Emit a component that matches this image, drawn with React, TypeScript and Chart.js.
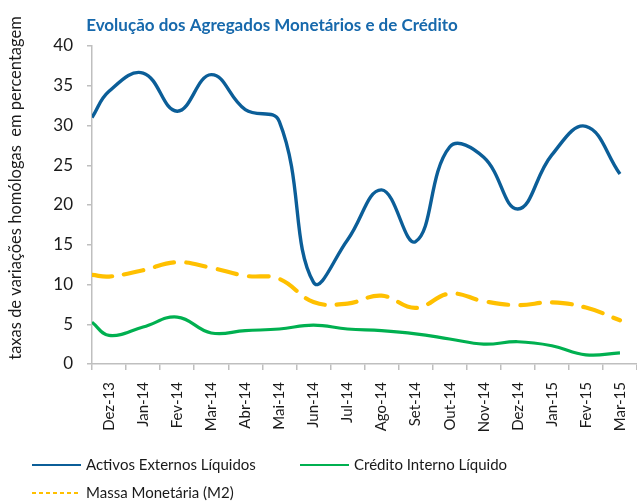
import { useEffect, useRef } from "react";
import { Chart, registerables } from "chart.js";

Chart.register(...registerables);

const categories = [
  "Dez-13", "Jan-14", "Fev-14", "Mar-14", "Abr-14", "Mai-14", "Jun-14", "Jul-14",
  "Ago-14", "Set-14", "Out-14", "Nov-14", "Dez-14", "Jan-15", "Fev-15", "Mar-15",
];

// First value of each series sits at the left edge of the axis (start of period), the rest at each month
const activosExternos = [31.0, 34.3, 36.6, 31.8, 36.4, 32.0, 30.5, 10.3, 15.6, 21.9, 15.4, 27.3, 26.0, 19.5, 26.3, 29.9, 23.9];
const creditoInterno = [5.25, 3.6, 4.65, 5.9, 3.9, 4.2, 4.4, 4.9, 4.4, 4.2, 3.8, 3.15, 2.5, 2.8, 2.3, 1.15, 1.4];
const massaMonetaria = [11.2, 11.0, 11.8, 12.8, 12.1, 11.1, 10.7, 7.8, 7.6, 8.6, 7.05, 8.85, 7.9, 7.4, 7.75, 7.1, 5.5];

const yTicks = [0, 5, 10, 15, 20, 25, 30, 35, 40];

const titleText = "Evolução dos Agregados Monetários e de Crédito";
const yTitleText = "taxas de variações homólogas  em percentagem";

const BLUE = "#0B5E98";
const GREEN = "#00B050";
const GOLD = "#FFC000";
const AXIS = "#BFBFBF";
const TEXT = "#1A1A1A";
const FONT = "Lato, 'Noto Sans', sans-serif";

const toPoints = (vals: number[]) =>
  vals.map((v, i) => ({ x: i === 0 ? -0.5 : i - 1, y: v }));

const legendItems = [
  { label: "Activos Externos Líquidos", color: BLUE, dash: [] as number[], x: 32, y: 465 },
  { label: "Crédito Interno Líquido", color: GREEN, dash: [] as number[], x: 300, y: 465 },
  { label: "Massa Monetária (M2)", color: GOLD, dash: [4, 3], x: 32, y: 493 },
];

const textPlugin = {
  id: "textPlugin",
  afterDraw(chart: any) {
    const ctx = chart.ctx as CanvasRenderingContext2D;
    ctx.save();
    // title
    ctx.fillStyle = "#1769AC";
    ctx.font = `bold 17px ${FONT}`;
    ctx.textAlign = "center";
    ctx.textBaseline = "middle";
    ctx.fillText(titleText, 272, 26);
    // y title
    ctx.save();
    ctx.translate(16, 188);
    ctx.rotate(-Math.PI / 2);
    ctx.fillStyle = TEXT;
    ctx.font = `16.5px ${FONT}`;
    ctx.fillText(yTitleText, 0, 0);
    ctx.restore();
    // legend
    for (const it of legendItems) {
      ctx.beginPath();
      ctx.strokeStyle = it.color;
      ctx.lineWidth = 2;
      ctx.setLineDash(it.dash);
      ctx.moveTo(it.x, it.y);
      ctx.lineTo(it.x + 49, it.y);
      ctx.stroke();
      ctx.setLineDash([]);
      ctx.fillStyle = TEXT;
      ctx.font = `15px ${FONT}`;
      ctx.textAlign = "left";
      ctx.textBaseline = "middle";
      ctx.fillText(it.label, it.x + 54, it.y);
    }
    ctx.restore();
  },
};

export default function App() {
  const ref = useRef<HTMLCanvasElement | null>(null);

  useEffect(() => {
    if (!ref.current) return;
    const lineBase = { pointRadius: 0, tension: 0.42, fill: false, xAxisID: "xl", yAxisID: "y" };
    const chart = new Chart(ref.current, {
      type: "line",
      data: {
        datasets: [
          { ...lineBase, label: "Activos Externos Líquidos", data: toPoints(activosExternos), borderColor: BLUE, borderWidth: 3.4 },
          { ...lineBase, label: "Crédito Interno Líquido", data: toPoints(creditoInterno), borderColor: GREEN, borderWidth: 3.2 },
          { ...lineBase, label: "Massa Monetária (M2)", data: toPoints(massaMonetaria), borderColor: GOLD, borderWidth: 4.2, borderDash: [20, 12], borderCapStyle: "round" },
        ],
      } as any,
      options: {
        responsive: false,
        animation: false,
        layout: { padding: { top: 46, left: 0, right: 0, bottom: 57 } },
        plugins: { legend: { display: false }, title: { display: false }, tooltip: { enabled: false } },
        scales: {
          x: {
            type: "category",
            labels: categories,
            offset: true,
            grid: { offset: true, drawOnChartArea: false, drawTicks: true, tickLength: 6, color: AXIS, lineWidth: 1.5 },
            border: { color: AXIS, width: 1.5 },
            ticks: { autoSkip: false, minRotation: 90, maxRotation: 90, color: TEXT, font: { family: FONT, size: 15 }, padding: 12 },
            afterFit(s: any) { s.height = 81; s.paddingRight = 0; s.paddingLeft = 0; },
          },
          xl: { type: "linear", display: false, min: -0.5, max: 15.5 },
          y: {
            min: 0,
            max: 40,
            afterBuildTicks(s: any) { s.ticks = yTicks.map((v) => ({ value: v })); },
            grid: { drawOnChartArea: false, drawTicks: true, tickLength: 5, color: AXIS, lineWidth: 1.5 },
            border: { color: AXIS, width: 1.5 },
            ticks: { color: TEXT, font: { family: FONT, size: 17 }, padding: 14 },
            afterFit(s: any) { s.width = 92; },
          },
        },
      } as any,
      plugins: [textPlugin],
    });
    return () => chart.destroy();
  }, []);

  return (
    <div style={{ position: "absolute", left: 0, top: 0, width: 637, height: 502, background: "#fff" }}>
      <canvas ref={ref} width={637} height={502} style={{ width: 637, height: 502, display: "block" }} />
    </div>
  );
}
